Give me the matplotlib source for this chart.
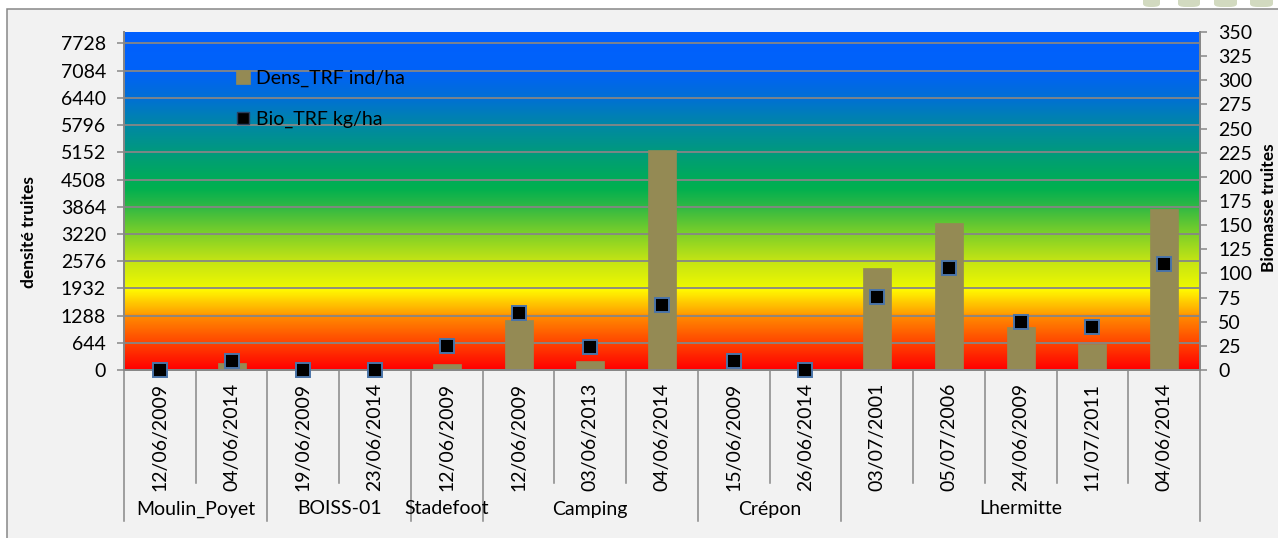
import numpy as np
import matplotlib
matplotlib.use("Agg")
import matplotlib.pyplot as plt
from matplotlib.colors import LinearSegmentedColormap, to_rgb
from matplotlib.patches import Rectangle, FancyBboxPatch
from matplotlib.transforms import blended_transform_factory
from matplotlib.lines import Line2D

plt.rcParams['font.family'] = ['Lato', 'DejaVu Sans']

# ---- data -------------------------------------------------------------
dates = ['12/06/2009', '04/06/2014', '19/06/2009', '23/06/2014', '12/06/2009',
         '12/06/2009', '03/06/2013', '04/06/2014', '15/06/2009', '26/06/2014',
         '03/07/2001', '05/07/2006', '24/06/2009', '11/07/2011', '04/06/2014']
stations = ['Moulin_Poyet', 'BOISS-01', 'Stadefoot', 'Camping', 'Crépon', 'Lhermitte']
station_counts = [2, 2, 1, 3, 2, 5]
density = [0, 173, 0, 0, 142, 1183, 213, 5207, 31, 0, 2407, 3479, 1011, 615, 3803]
biomass = [0, 9.3, 0, 0, 25.2, 59, 24, 67.3, 9.3, 0, 76, 106, 50, 44.8, 109.5]
left_ticks = [0, 644, 1288, 1932, 2576, 3220, 3864, 4508, 5152, 5796, 6440, 7084, 7728]
right_ticks = [0, 25, 50, 75, 100, 125, 150, 175, 200, 225, 250, 275, 300, 325, 350]

# ---- figure -----------------------------------------------------------
W, H = 1278, 538
fig = plt.figure(figsize=(W / 100, H / 100), dpi=100, facecolor='white')
FS = 14

# chart area panel
fig.add_artist(Rectangle((7 / W, -0.05), 1.1, 1 - 9 / H + 0.05, transform=fig.transFigure,
                         facecolor='#F2F2F2', edgecolor='#878787', linewidth=1.1, zorder=-5))

# decorative shapes at the top-right
for x0, x1 in [(1143, 1160), (1178, 1200), (1214, 1237), (1250, 1273)]:
    fig.add_artist(FancyBboxPatch((x0 / W, 1 - 7 / H), (x1 - x0) / W, 12 / H,
                                  boxstyle="round,pad=0,rounding_size=0.006",
                                  transform=fig.transFigure, facecolor='#D2DAC0',
                                  edgecolor='none', zorder=-4))

px_l, px_r, px_t, px_b = 124, 1200, 32, 370
ax = fig.add_axes([px_l / W, 1 - px_b / H, (px_r - px_l) / W, (px_b - px_t) / H])
ax2 = ax.twinx()

n = len(dates)
x = np.arange(n)
ymax_left, ymax_right = 8000, 350
ax.set_xlim(-0.5, n - 0.5)
ax.set_ylim(0, ymax_left)
ax2.set_ylim(0, ymax_right)

# background colour ramp of the plot area
stops = [(0, '#FF0000'), (644, '#FF4600'), (1288, '#FF8E00'), (1300, '#FF9C00'),
         (1925, '#FFFF00'), (1940, '#EEF800'), (2576, '#C4E414'), (3220, '#7ED028'),
         (3864, '#30B844'), (4300, '#00B050'), (4508, '#00AC58'), (5152, '#009A7C'),
         (5796, '#0088A4'), (6440, '#0070D4'), (7084, '#0062F8'), (8000, '#0060FF')]
cmap = LinearSegmentedColormap.from_list(
    'ramp', [(v / ymax_left, to_rgb(c)) for v, c in stops])
grad = np.linspace(0, 1, 800).reshape(-1, 1)
ax.imshow(grad, cmap=cmap, origin='lower', aspect='auto',
          extent=[-0.5, n - 0.5, 0, ymax_left], zorder=0, interpolation='bilinear')

# grid
for v in left_ticks:
    ax.axhline(v, color='#868686', lw=1.3, zorder=1)

bars = ax.bar(x, density, width=0.39, color='#948A54', edgecolor='#948A54',
              lw=0.5, zorder=2, label='Dens_TRF ind/ha')
ax2.plot(x, biomass, ls='none', marker='s', markersize=9.5, markerfacecolor='black',
         markeredgecolor='#4A74A8', markeredgewidth=1.4, clip_on=False, zorder=5)
ax2.set_zorder(ax.get_zorder() + 1)
ax2.patch.set_visible(False)

gray = '#878787'
for a in (ax, ax2):
    for s in a.spines.values():
        s.set_color(gray)
        s.set_linewidth(1.3)
    a.spines['top'].set_visible(False)

ax.set_yticks(left_ticks)
ax.set_yticklabels([str(t) for t in left_ticks])
ax2.set_yticks(right_ticks)
ax2.set_yticklabels([str(t) for t in right_ticks])
for a in (ax, ax2):
    a.tick_params(axis='y', direction='out', length=5, width=1.1, color=gray,
                  labelsize=FS, pad=8, labelcolor='black')
    a.set_xticks([])

# two-level category axis
tr = blended_transform_factory(ax.transData, ax.transAxes)
axh = px_b - px_t
short_end = -(483 - px_b) / axh
long_end = -(521 - px_b) / axh
bounds = np.cumsum([0] + station_counts)
for k in range(n + 1):
    yend = long_end if k in bounds else short_end
    ax.plot([k - 0.5, k - 0.5], [0, yend], transform=tr, color=gray, lw=1.1,
            clip_on=False, zorder=3)
for i, d in enumerate(dates):
    ax.text(i, -(383 - px_b) / axh, d, rotation=90, ha='center', va='top',
            transform=tr, fontsize=FS)
for name, b0, b1 in zip(stations, bounds[:-1], bounds[1:]):
    ax.text((b0 + b1) / 2 - 0.5, -(509 - px_b) / axh, name, ha='center',
            va='center', transform=tr, fontsize=FS)

# axis titles
fig.text(29 / W, 1 - 288 / H, 'densité truites', rotation=90, ha='center',
         va='bottom', fontsize=12.5, fontweight='bold')
fig.text(1269 / W, 1 - 272 / H, 'Biomasse truites', rotation=90, ha='center',
         va='bottom', fontsize=12.5, fontweight='bold')

# legend
bio_handle = Line2D([], [], ls='none', marker='s', markersize=8,
                    markerfacecolor='black', markeredgecolor='#2A3F5F',
                    markeredgewidth=1)
leg = ax2.legend([bars, bio_handle], ['Dens_TRF ind/ha', 'Bio_TRF kg/ha'],
                 loc='upper left', bbox_to_anchor=((236 - px_l) / (px_r - px_l), 1 - (70 - px_t) / axh),
                 frameon=False, fontsize=FS, handlelength=0.7, handleheight=0.7,
                 handletextpad=0.35, labelspacing=1.2, borderpad=0, borderaxespad=0)

fig.savefig('out.png', dpi=100, facecolor='white')
